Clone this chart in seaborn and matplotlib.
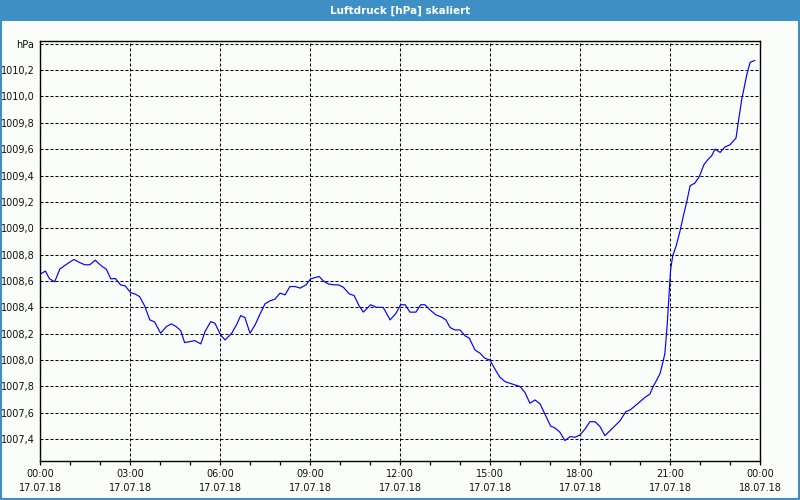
import matplotlib
matplotlib.use("Agg")
import matplotlib.pyplot as plt
import seaborn as sns
import pandas as pd
from matplotlib.patches import Rectangle
from matplotlib.ticker import FixedLocator

# ---- data (hours since 17.07.18 00:00, pressure in hPa) ----
hours = [0.02, 0.18, 0.32, 0.49, 0.66, 0.82, 0.99, 1.13, 1.32, 1.49, 1.66, 1.84,
         2.07, 2.21, 2.36, 2.51, 2.69, 2.84, 3.02, 3.16, 3.32, 3.49, 3.66, 3.82,
         4.02, 4.21, 4.38, 4.54, 4.69, 4.82, 4.99, 5.16, 5.36, 5.50, 5.69, 5.83,
         6.02, 6.17, 6.39, 6.56, 6.69, 6.83, 7.00, 7.17, 7.33, 7.50, 7.67, 7.83,
         8.00, 8.17, 8.33, 8.50, 8.67, 8.87, 9.02, 9.17, 9.31, 9.44, 9.61, 9.78,
         9.94, 10.11, 10.31, 10.47, 10.64, 10.78, 10.91, 11.02, 11.22, 11.44, 11.67, 11.87,
         12.02, 12.17, 12.33, 12.53, 12.69, 12.83, 13.00, 13.20, 13.39, 13.53, 13.67, 13.83,
         14.00, 14.17, 14.31, 14.50, 14.67, 14.83, 15.00, 15.17, 15.33, 15.50, 15.67, 15.83,
         16.00, 16.17, 16.33, 16.50, 16.67, 16.83, 17.02, 17.17, 17.33, 17.50, 17.67, 17.83,
         18.00, 18.17, 18.33, 18.50, 18.67, 18.83, 19.00, 19.17, 19.33, 19.53, 19.67, 19.83,
         20.00, 20.17, 20.33, 20.44, 20.56, 20.67, 20.78, 20.83, 20.91, 20.98, 21.02, 21.09,
         21.20, 21.33, 21.44, 21.56, 21.67, 21.83, 21.98, 22.13, 22.28, 22.39, 22.50, 22.67,
         22.83, 23.00, 23.20, 23.28, 23.39, 23.56, 23.67, 23.83]
pressure = [1008.654, 1008.675, 1008.616, 1008.594, 1008.690, 1008.717, 1008.743, 1008.763,
            1008.740, 1008.723, 1008.723, 1008.758, 1008.710, 1008.690, 1008.616, 1008.619,
            1008.570, 1008.563, 1008.512, 1008.502, 1008.482, 1008.410, 1008.305, 1008.290,
            1008.204, 1008.254, 1008.275, 1008.254, 1008.224, 1008.133, 1008.140, 1008.148,
            1008.123, 1008.216, 1008.292, 1008.280, 1008.191, 1008.153, 1008.204, 1008.272,
            1008.338, 1008.323, 1008.204, 1008.267, 1008.348, 1008.427, 1008.450, 1008.462,
            1008.508, 1008.495, 1008.558, 1008.558, 1008.546, 1008.571, 1008.616, 1008.626,
            1008.634, 1008.601, 1008.578, 1008.571, 1008.571, 1008.553, 1008.502, 1008.490,
            1008.410, 1008.364, 1008.394, 1008.420, 1008.400, 1008.400, 1008.305, 1008.356,
            1008.420, 1008.420, 1008.364, 1008.364, 1008.420, 1008.420, 1008.381, 1008.343,
            1008.326, 1008.305, 1008.247, 1008.229, 1008.229, 1008.184, 1008.166, 1008.077,
            1008.052, 1008.014, 1008.000, 1007.930, 1007.870, 1007.837, 1007.824, 1007.812,
            1007.800, 1007.753, 1007.673, 1007.698, 1007.668, 1007.592, 1007.500, 1007.485,
            1007.453, 1007.390, 1007.420, 1007.415, 1007.432, 1007.478, 1007.533, 1007.533,
            1007.495, 1007.427, 1007.465, 1007.503, 1007.539, 1007.610, 1007.622, 1007.652,
            1007.685, 1007.718, 1007.743, 1007.800, 1007.850, 1007.900, 1008.000, 1008.052,
            1008.280, 1008.530, 1008.685, 1008.791, 1008.862, 1008.975, 1009.089, 1009.203,
            1009.322, 1009.343, 1009.393, 1009.482, 1009.525, 1009.550, 1009.600, 1009.575,
            1009.616, 1009.633, 1009.684, 1009.810, 1009.975, 1010.165, 1010.258, 1010.273]

x_tick_hours = [0, 3, 6, 9, 12, 15, 18, 21, 24]
x_tick_labels = ["00:00\n17.07.18", "03:00\n17.07.18", "06:00\n17.07.18",
                 "09:00\n17.07.18", "12:00\n17.07.18", "15:00\n17.07.18",
                 "18:00\n17.07.18", "21:00\n17.07.18", "00:00\n18.07.18"]
y_ticks = [1007.4, 1007.6, 1007.8, 1008.0, 1008.2, 1008.4, 1008.6, 1008.8,
           1009.0, 1009.2, 1009.4, 1009.6, 1009.8, 1010.0, 1010.2, 1010.4]
y_tick_labels = ["1007,4", "1007,6", "1007,8", "1008,0", "1008,2", "1008,4",
                 "1008,6", "1008,8", "1009,0", "1009,2", "1009,4", "1009,6",
                 "1009,8", "1010,0", "1010,2", "hPa"]
title = "Luftdruck [hPa] skaliert"

df = pd.DataFrame({"h": hours, "p": pressure})

sns.set_style("white")
plt.rcParams["font.family"] = ["DejaVu Sans"]

BLUE_BAR = "#3D8FC6"
fig = plt.figure(figsize=(8, 5), dpi=100, facecolor="#FBFDFB")
ax = fig.add_axes([40 / 800, 39 / 500, 720 / 800, 420 / 500])
ax.set_facecolor("#FBFDFB")

sns.lineplot(data=df, x="h", y="p", ax=ax, color="#0000FF", linewidth=0.85)

ax.set_xlim(0, 24)
ax.set_ylim(1007.235, 1010.42)

ax.set_xticks(x_tick_hours)
ax.set_xticklabels(x_tick_labels, fontsize=7, color="#111111", linespacing=1.45)
ax.xaxis.set_minor_locator(FixedLocator(list(range(0, 25))))
ax.tick_params(axis="x", which="both", direction="out", length=3, width=0.9,
               color="black", pad=3, bottom=True)
ax.set_yticks(y_ticks)
ax.set_yticklabels(y_tick_labels, fontsize=7, color="#111111")
ax.tick_params(axis="y", which="both", length=0, pad=4, left=True)

ax.grid(True, which="major", color="black", linestyle=(0, (2.9, 1.9)), linewidth=0.75)
for s in ax.spines.values():
    s.set_visible(True)
    s.set_color("black")
    s.set_linewidth(1.0)

ax.set_xlabel("")
ax.set_ylabel("")

# title bar and window border
fig.patches.append(Rectangle((0, 1 - 21 / 500), 1, 21 / 500, transform=fig.transFigure,
                             facecolor=BLUE_BAR, edgecolor="none", zorder=0))
fig.patches.append(Rectangle((0.6 / 800, 0.6 / 500), 798.8 / 800, 1 - 1.2 / 500,
                             transform=fig.transFigure, facecolor="none",
                             edgecolor=BLUE_BAR, linewidth=1.5, zorder=1))
fig.text(0.5, 1 - 11 / 500, title, color="white", fontsize=7.5, fontweight="bold",
         ha="center", va="center")

fig.savefig("out.png", dpi=100, facecolor=fig.get_facecolor())
